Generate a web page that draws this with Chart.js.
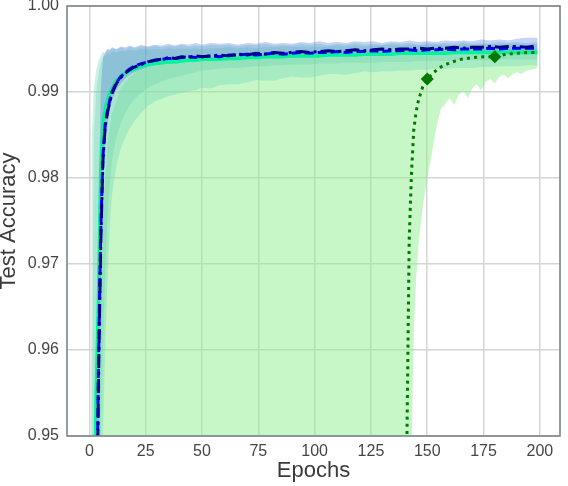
<!DOCTYPE html>
<html>
<head>
<meta charset="utf-8">
<script src="https://cdn.jsdelivr.net/npm/chart.js@4.4.1/dist/chart.umd.min.js"></script>
<style>
html,body{margin:0;padding:0;background:#fff;}
#wrap{width:568px;height:486px;}
</style>
</head>
<body>
<div id="wrap"><canvas id="c" width="568" height="486"></canvas></div>
<script>
// ---------- data ----------
const epochs = [0,1,2,3,4,5,6,7,8,9,10,12,14,16,18,20,23,26,29,32,35,38,41,44,47,50,54,58,62,66,70,74,78,82,86,90,94,98,102,106,110,114,118,122,126,130,134,138,142,146,150,154,158,162,166,170,174,178,182,186,190,194,199];

const solidMean = [0.70,0.85,0.935,0.955,0.9655,0.9805,0.9862,0.9880,0.9890,0.9898,0.9904,0.9913,0.9919,0.9922,0.9925,0.9927,0.9930,0.9932,0.9933,0.9934,0.9935,0.9935,0.9936,0.9937,0.9937,0.9938,0.9938,0.9938,0.9939,0.9939,0.9940,0.9940,0.9941,0.9941,0.9941,0.9942,0.9942,0.9942,0.9942,0.9943,0.9943,0.9943,0.9943,0.9944,0.9944,0.9944,0.9944,0.9945,0.9945,0.9945,0.9945,0.9945,0.9945,0.9946,0.9946,0.9946,0.9946,0.9946,0.9946,0.9946,0.9946,0.9946,0.9946];

const dashedMean = [0.60,0.75,0.88,0.935,0.958,0.9735,0.9825,0.9862,0.9878,0.9890,0.9900,0.9911,0.9918,0.9923,0.9927,0.9930,0.9933,0.9935,0.9937,0.9938,0.9939,0.9939,0.9940,0.9941,0.9940,0.9941,0.9942,0.9941,0.9943,0.9943,0.9944,0.9943,0.9944,0.9945,0.9944,0.9945,0.9946,0.9945,0.9946,0.9946,0.9947,0.9946,0.9947,0.9947,0.9948,0.9947,0.9948,0.9948,0.9949,0.9948,0.9949,0.9949,0.9950,0.9949,0.9950,0.9950,0.9950,0.9951,0.9950,0.9951,0.9951,0.9951,0.9951];

const dashDotMean = [0.58,0.74,0.87,0.93,0.956,0.972,0.9820,0.9860,0.9876,0.9888,0.9898,0.9910,0.9917,0.9922,0.9926,0.9929,0.9932,0.9935,0.9937,0.9938,0.9940,0.9939,0.9941,0.9940,0.9942,0.9941,0.9942,0.9943,0.9942,0.9944,0.9943,0.9945,0.9944,0.9946,0.9945,0.9946,0.9947,0.9946,0.9947,0.9948,0.9947,0.9948,0.9949,0.9948,0.9949,0.9950,0.9949,0.9950,0.9950,0.9951,0.9950,0.9951,0.9951,0.9952,0.9951,0.9952,0.9952,0.9953,0.9952,0.9953,0.9953,0.9952,0.9954];

// outer aquamarine band (solid series)
const aquaOuterHigh = [0.88,0.985,0.9905,0.9925,0.9936,0.9942,0.9947,0.9945,0.9950,0.9948,0.9951,0.9949,0.9952,0.9950,0.9953,0.9951,0.9953,0.9952,0.9954,0.9952,0.9954,0.9953,0.9955,0.9953,0.9954,0.9953,0.9955,0.9954,0.9955,0.9953,0.9955,0.9954,0.9956,0.9954,0.9955,0.9954,0.9956,0.9955,0.9956,0.9954,0.9956,0.9955,0.9957,0.9955,0.9956,0.9955,0.9957,0.9956,0.9957,0.9955,0.9957,0.9956,0.9957,0.9956,0.9958,0.9956,0.9957,0.9956,0.9958,0.9957,0.9958,0.9957,0.9958];
const aquaOuterLow = [0.50,0.60,0.70,0.80,0.88,0.93,0.950,0.960,0.968,0.974,0.978,0.9815,0.9835,0.9848,0.9858,0.9866,0.9876,0.9884,0.9889,0.9892,0.9895,0.9897,0.9899,0.9901,0.9902,0.9905,0.9904,0.9908,0.9909,0.9909,0.9911,0.9914,0.9913,0.9913,0.9916,0.9918,0.9917,0.9917,0.9919,0.9921,0.9921,0.9920,0.9922,0.9924,0.9923,0.9924,0.9924,0.9925,0.9925,0.9926,0.9926,0.9927,0.9927,0.9928,0.9928,0.9928,0.9929,0.9929,0.9930,0.9930,0.9930,0.9931,0.9931];

// inner aquamarine band
const aquaInnerHigh = [0.80,0.95,0.985,0.9900,0.9920,0.9933,0.9940,0.9942,0.9945,0.9944,0.9947,0.9946,0.9948,0.9947,0.9949,0.9948,0.9950,0.9949,0.9950,0.9949,0.9951,0.9950,0.9951,0.9950,0.9951,0.9950,0.9951,0.9951,0.9952,0.9951,0.9952,0.9951,0.9952,0.9952,0.9953,0.9952,0.9953,0.9952,0.9953,0.9953,0.9954,0.9953,0.9954,0.9953,0.9954,0.9954,0.9955,0.9954,0.9955,0.9954,0.9955,0.9955,0.9955,0.9954,0.9956,0.9955,0.9955,0.9956,0.9955,0.9956,0.9956,0.9955,0.9956];
const aquaInnerLow = [0.55,0.70,0.80,0.88,0.93,0.950,0.960,0.969,0.975,0.979,0.9820,0.9848,0.9864,0.9876,0.9885,0.9892,0.9899,0.9905,0.9909,0.9912,0.9915,0.9917,0.9919,0.9921,0.9923,0.9925,0.9926,0.9927,0.9928,0.9928,0.9929,0.9930,0.9930,0.9931,0.9931,0.9932,0.9932,0.9932,0.9933,0.9933,0.9933,0.9934,0.9934,0.9934,0.9934,0.9935,0.9935,0.9935,0.9935,0.9936,0.9936,0.9936,0.9936,0.9937,0.9937,0.9937,0.9937,0.9937,0.9938,0.9938,0.9938,0.9938,0.9938];

// blue band (dashed / dash-dot series)
const blueHigh = [0.50,0.60,0.75,0.93,0.975,0.9900,0.9940,0.9946,0.9950,0.9949,0.9952,0.9950,0.9953,0.9952,0.9954,0.9952,0.9955,0.9953,0.9955,0.9954,0.9956,0.9954,0.9956,0.9955,0.9957,0.9955,0.9957,0.9956,0.9957,0.9955,0.9957,0.9956,0.9958,0.9956,0.9957,0.9956,0.9958,0.9957,0.9959,0.9957,0.9958,0.9957,0.9959,0.9958,0.9959,0.9957,0.9959,0.9958,0.9960,0.9958,0.9959,0.9958,0.9960,0.9959,0.9960,0.9959,0.9961,0.9960,0.9961,0.9960,0.9962,0.9963,0.9963];
const blueLow = [0.45,0.55,0.70,0.90,0.945,0.968,0.979,0.984,0.9863,0.9878,0.9890,0.9903,0.9910,0.9916,0.9920,0.9923,0.9926,0.9929,0.9931,0.9932,0.9933,0.9934,0.9935,0.9935,0.9936,0.9936,0.9937,0.9937,0.9938,0.9938,0.9938,0.9939,0.9939,0.9940,0.9940,0.9940,0.9941,0.9941,0.9941,0.9942,0.9942,0.9942,0.9943,0.9943,0.9943,0.9943,0.9944,0.9944,0.9944,0.9944,0.9945,0.9945,0.9945,0.9945,0.9946,0.9946,0.9946,0.9946,0.9947,0.9947,0.9947,0.9947,0.9947];

// light green band (dotted series)
const lgEpochs = [0,2,4,6,8,10,14,18,22,26,30,40,50,60,70,80,90,100,110,120,130,140,142,143,144,145,146,148,150,152,154,156,158,160,162,164,166,168,170,172,174,176,178,180,182,184,186,188,190,192,194,196,199];
const lgHigh = [0.80,0.93,0.955,0.976,0.984,0.9875,0.9905,0.9918,0.9925,0.9929,0.9932,0.9935,0.9937,0.9938,0.9939,0.9940,0.9941,0.9942,0.9943,0.9944,0.9945,0.9946,0.9946,0.9946,0.9946,0.9946,0.9946,0.9947,0.9947,0.9947,0.9947,0.9947,0.9948,0.9948,0.9948,0.9948,0.9948,0.9948,0.9949,0.9949,0.9949,0.9949,0.9949,0.9949,0.9950,0.9950,0.9950,0.9950,0.9950,0.9950,0.9950,0.9950,0.9950];
const lgLow = [0.90,0.90,0.90,0.90,0.90,0.90,0.90,0.90,0.90,0.90,0.90,0.90,0.90,0.90,0.90,0.90,0.90,0.90,0.90,0.90,0.90,0.90,0.93,0.948,0.962,0.968,0.972,0.9766,0.980,0.9828,0.9858,0.9880,0.9886,0.9893,0.9885,0.9897,0.9901,0.9893,0.9904,0.9909,0.9902,0.9912,0.9915,0.9910,0.9918,0.9920,0.9916,0.9921,0.9923,0.9921,0.9925,0.9926,0.9928];

// dotted series (late starter)
const dottedEpochs = [139,140,141,142,143,144,145,146,147,148,150,153,156,160,165,170,175,180,185,190,195,199];
const dottedMean = [0.90,0.93,0.950,0.973,0.9805,0.9855,0.9876,0.9889,0.9898,0.9906,0.9915,0.9923,0.9929,0.9934,0.9938,0.9940,0.9941,0.9941,0.9944,0.9945,0.9946,0.9946];
const markerEpochs = [0,30,60,90,120,150,180];

const xTicks = [0,25,50,75,100,125,150,175,200];
const yTicks = [0.95,0.96,0.97,0.98,0.99,1.00];

// ---------- build ----------
const pts = (xs, ys) => xs.map((x, i) => ({x: x, y: ys[i]}));
const hidden = {borderWidth: 0, pointRadius: 0, borderColor: 'rgba(0,0,0,0)', backgroundColor: 'rgba(0,0,0,0)'};

const datasets = [
  Object.assign({data: pts(lgEpochs, lgLow), fill: false, order: 20}, hidden),
  Object.assign({data: pts(lgEpochs, lgHigh), order: 19}, hidden,
    {fill: {target: 0, above: 'rgba(144,238,144,0.5)', below: 'rgba(144,238,144,0.5)'}}),
  Object.assign({data: pts(epochs, aquaOuterLow), fill: false, order: 18}, hidden),
  Object.assign({data: pts(epochs, aquaOuterHigh), order: 17}, hidden,
    {fill: {target: 2, above: 'rgba(110,215,185,0.36)', below: 'rgba(110,215,185,0.36)'}}),
  Object.assign({data: pts(epochs, aquaInnerLow), fill: false, order: 16}, hidden),
  Object.assign({data: pts(epochs, aquaInnerHigh), order: 15}, hidden,
    {fill: {target: 4, above: 'rgba(102,205,170,0.30)', below: 'rgba(102,205,170,0.30)'}}),
  Object.assign({data: pts(epochs, blueLow), fill: false, order: 14}, hidden),
  Object.assign({data: pts(epochs, blueHigh), order: 13}, hidden,
    {fill: {target: 6, above: 'rgba(65,105,225,0.30)', below: 'rgba(65,105,225,0.30)'}}),
  {data: pts(epochs, solidMean), borderColor: '#00F59A', borderWidth: 3.5, pointRadius: 0, fill: false, order: 4},
  {data: pts(epochs, dashedMean), borderColor: '#0000FF', borderWidth: 3, borderDash: [9, 4], pointRadius: 0, fill: false, order: 3},
  {data: pts(epochs, dashDotMean), borderColor: '#00008B', borderWidth: 3, borderDash: [14, 4, 3, 4], pointRadius: 0, fill: false, order: 2},
  {data: pts(dottedEpochs, dottedMean), borderColor: '#007A00', backgroundColor: '#007A00', borderWidth: 3, borderDash: [3, 4.2],
    pointStyle: 'rectRot', pointBorderWidth: 0,
    pointRadius: ctx => (ctx.raw && markerEpochs.includes(ctx.raw.x)) ? 6.5 : 0,
    pointHoverRadius: 0, fill: false, order: 1}
];
datasets.forEach(d => { d.tension = 0; d.borderCapStyle = 'butt'; });

const frame = {
  id: 'frame',
  afterDatasetsDraw(chart) {
    const a = chart.chartArea, c = chart.ctx;
    c.save();
    c.strokeStyle = '#7d848d';
    c.lineWidth = 1.6;
    c.strokeRect(a.left, a.top, a.right - a.left, a.bottom - a.top);
    c.restore();
  }
};

const FONT = "'Liberation Sans', Arial, Helvetica, sans-serif";

new Chart(document.getElementById('c'), {
  type: 'line',
  data: {datasets: datasets},
  plugins: [frame],
  options: {
    responsive: false,
    animation: false,
    layout: {padding: {top: 6, right: 8, left: 0, bottom: 0}},
    plugins: {legend: {display: false}, tooltip: {enabled: false}},
    elements: {line: {borderJoinStyle: 'round'}},
    scales: {
      x: {
        type: 'linear', min: -9.95, max: 208.95,
        afterBuildTicks: s => { s.ticks = xTicks.map(v => ({value: v})); },
        afterFit: s => { s.height = 50; s.paddingLeft = 0; s.paddingRight = 0; },
        grid: {color: '#d5d5d5', lineWidth: 1.5, drawTicks: false},
        border: {display: false},
        ticks: {font: {family: FONT, size: 16}, color: '#454545', padding: 6, maxRotation: 0,
          callback: v => String(v)},
        title: {display: true, text: 'Epochs', font: {family: FONT, size: 22}, color: '#3a3a3a', padding: {top: 0, bottom: 2}}
      },
      y: {
        type: 'linear', min: 0.95, max: 1.0,
        afterBuildTicks: s => { s.ticks = yTicks.map(v => ({value: v})); },
        afterFit: s => { s.width = 67; s.paddingTop = 0; s.paddingBottom = 0; },
        grid: {color: '#d5d5d5', lineWidth: 1.5, drawTicks: false},
        border: {display: false},
        ticks: {font: {family: FONT, size: 16}, color: '#454545', padding: 8,
          callback: v => Number(v).toFixed(2)},
        title: {display: true, text: 'Test Accuracy', font: {family: FONT, size: 22, lineHeight: 0.8}, color: '#3a3a3a', padding: {top: 0, bottom: 0}}
      }
    }
  }
});
</script>
</body>
</html>
